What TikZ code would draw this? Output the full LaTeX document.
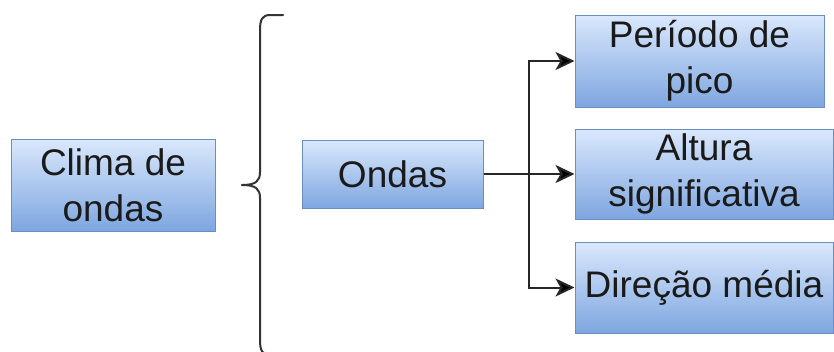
\documentclass[tikz,border=0pt]{standalone}
\usepackage{fontspec}
\setmainfont{Liberation Sans}
\usetikzlibrary{arrows.meta}
\definecolor{boxtop}{HTML}{DAE8FC}
\definecolor{boxbot}{HTML}{7EA6E0}
\definecolor{boxline}{HTML}{6C8EBF}
\definecolor{txt}{HTML}{1A1A1A}
\tikzset{
  blue box/.style={draw=boxline, line width=1pt, top color=boxtop, bottom color=boxbot,
    align=center, inner sep=0pt, text=txt, font=\fontsize{37}{46}\selectfont},
  arr/.style={line width=2pt, draw=black!85, -{Stealth[length=19pt,width=18pt,inset=5pt,fill=black]}},
  conn/.style={line width=2pt, draw=black!85},
  bracestyle/.style={line width=2pt, draw=black!80, line cap=round}
}
\begin{document}
\begin{tikzpicture}[x=1pt,y=-1pt]
\useasboundingbox (0,0) rectangle (834,351);
\node[blue box, minimum width=204pt, minimum height=92pt] (clima) at (113,185) {Clima de\\ondas};
\node[blue box, minimum width=181pt, minimum height=68pt] (ondas) at (392.5,174) {Ondas};
\node[blue box, minimum width=249pt, minimum height=92pt] (p1) at (699.5,61) {Período de\\pico};
\node[blue box, minimum width=258pt, minimum height=90pt] (p2) at (704,174) {Altura\\significativa};
\node[blue box, minimum width=258pt, minimum height=91pt] (p3) at (704,287.5) {Direção média};
% brace
\draw[bracestyle] (283,15) -- (270,15) .. controls (262,15) and (260,20) .. (260,30)
  -- (260,172) .. controls (260,181) and (256,185) .. (242,185);
\draw[bracestyle] (242,185) .. controls (256,185) and (260,189) .. (260,198)
  -- (260,340) .. controls (260,350) and (262,355) .. (270,355);
% connectors
\coordinate (j) at (529,174);
\draw[conn] (ondas.east) -- (j);
\draw[arr] (j) -- (p2.west);
\draw[arr] (j) |- (p1.west);
\draw[arr] (j) |- (p3.west);
\end{tikzpicture}
\end{document}
